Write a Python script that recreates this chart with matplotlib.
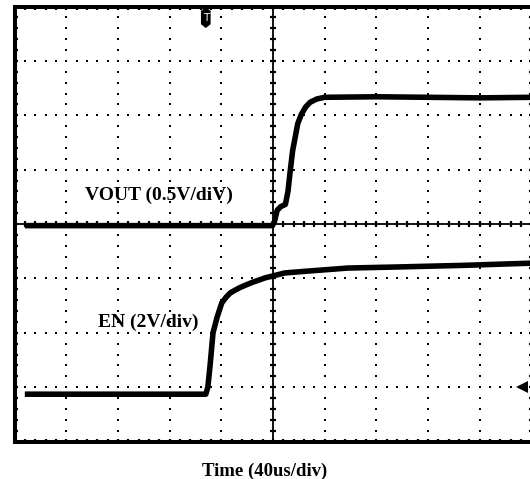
import numpy as np
import matplotlib
matplotlib.use("Agg")
import matplotlib.pyplot as plt

# ---- data (in scope divisions) ----
vout_t = [0.20, 4.99, 5.03, 5.08, 5.15, 5.24, 5.29, 5.33, 5.38, 5.43, 5.48,
          5.55, 5.63, 5.72, 5.85, 6.00, 7.00, 8.00, 9.00, 10.0]
vout_v = [3.97, 3.97, 4.05, 4.25, 4.32, 4.36, 4.60, 4.95, 5.35, 5.60, 5.85,
          6.02, 6.15, 6.24, 6.30, 6.33, 6.34, 6.33, 6.32, 6.33]
en_t = [0.20, 3.70, 3.74, 3.78, 3.84, 3.92, 4.01, 4.09, 4.17, 4.26, 4.36,
        4.48, 4.61, 4.85, 5.23, 5.62, 6.45, 7.42, 8.71, 10.0]
en_v = [0.87, 0.87, 1.00, 1.37, 2.00, 2.29, 2.55, 2.65, 2.73, 2.78, 2.83,
        2.88, 2.93, 3.01, 3.10, 3.13, 3.19, 3.21, 3.24, 3.28]

vout_label = "VOUT (0.5V/diV)"
en_label = "EN (2V/div)"
time_label = "Time (40us/div)"
trigger_pos = 3.70
ground_marker = 1.0

n_xdiv, n_ydiv = 10, 8

W, H = 530, 479
fig = plt.figure(figsize=(W / 100, H / 100), dpi=100)
ax = fig.add_axes([14.5 / W, 1 - 441.5 / H, 517 / W, 435 / H])
ax.set_xlim(0, n_xdiv)
ax.set_ylim(0, n_ydiv)

serif = ["Liberation Serif", "DejaVu Serif"]

# border
for s in ["left", "top", "bottom"]:
    ax.spines[s].set_linewidth(2.9)
    ax.spines[s].set_color("black")
ax.spines["right"].set_visible(False)

minor = np.round(np.arange(0, n_xdiv + 0.001, 0.2), 3)
minor_y = np.round(np.arange(0, n_ydiv + 0.001, 0.2), 3)
ax.set_xticks(minor)
ax.set_yticks(minor_y)
ax.tick_params(direction="in", length=2.5, width=1.6, top=True, right=True,
               bottom=True, left=True, labelbottom=False, labelleft=False)

# dotted grid
for gx in range(1, n_xdiv):
    if gx == n_xdiv // 2:
        continue
    ax.plot(np.full_like(minor_y, gx), minor_y, ls="none", marker="s",
            ms=1.6, mew=0, color="black", zorder=1)
for gy in range(1, n_ydiv):
    if gy == n_ydiv // 2:
        continue
    ax.plot(minor, np.full_like(minor, gy), ls="none", marker="s",
            ms=1.6, mew=0, color="black", zorder=1)

# centre cross
ax.axhline(n_ydiv / 2, color="black", lw=1.3, zorder=2)
ax.axvline(n_xdiv / 2, color="black", lw=1.3, zorder=2)
ax.plot(minor, np.full_like(minor, n_ydiv / 2), ls="none", marker="|",
        ms=5, mew=1.6, color="black", zorder=2)
ax.plot(np.full_like(minor_y, n_xdiv / 2), minor_y, ls="none", marker="_",
        ms=5, mew=1.6, color="black", zorder=2)

# traces
ax.plot(vout_t, vout_v, color="black", lw=4.0, solid_joinstyle="round",
        solid_capstyle="butt", zorder=3)
ax.plot(en_t, en_v, color="black", lw=4.0, solid_joinstyle="round",
        solid_capstyle="butt", zorder=3)

# trigger marker (shield with T)
tx = trigger_pos
ax.fill([tx - 0.09, tx + 0.09, tx], [8.0, 8.0, 7.90], color="black",
        zorder=4, clip_on=False)
ax.fill([tx - 0.08, tx + 0.08, tx + 0.08, tx, tx - 0.08],
        [7.92, 7.92, 7.68, 7.62, 7.68], color="black", zorder=4)
ax.text(tx, 7.78, "T", color="white", fontsize=7.5, ha="center",
        va="center", family=["DejaVu Sans"], zorder=5)

# ground marker at right
ax.plot([9.82], [ground_marker], marker="<", ms=8, mew=0, color="black",
        zorder=4)

# labels
ax.text(2.80, 4.52, vout_label, fontsize=14, fontweight="bold",
        family=serif, ha="center", va="center", zorder=5)
ax.text(2.58, 2.20, en_label, fontsize=14, fontweight="bold",
        family=serif, ha="center", va="center", zorder=5)
fig.text(265 / W, 1 - 471 / H, time_label, fontsize=13.5, fontweight="bold",
         family=serif, ha="center", va="center")

fig.savefig("out.png", dpi=100, facecolor="white")
